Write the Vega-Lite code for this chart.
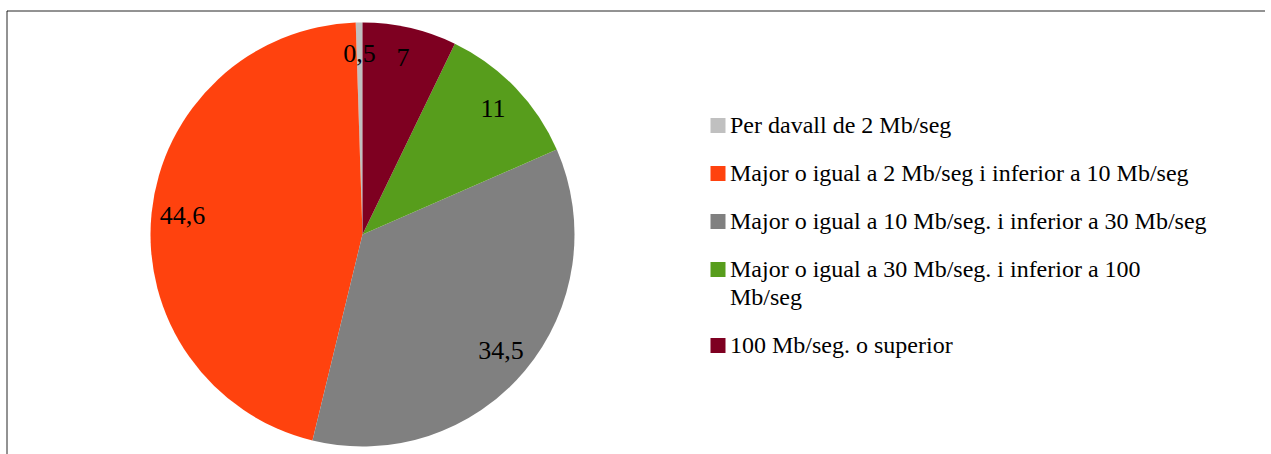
{
  "$schema": "https://vega.github.io/schema/vega-lite/v6.json",
  "width": 1258,
  "height": 443,
  "autosize": {"type": "none"},
  "padding": {"left": 6.5, "top": 10.5, "right": 0, "bottom": 0},
  "background": "white",
  "view": {"stroke": "#262626", "strokeWidth": 1, "fill": "white", "strokeDash": [1258, 1701, 443]},
  "config": {
    "locale": {"number": {"decimal": ",", "thousands": ".", "grouping": [3], "currency": ["", " €"]}}
  },
  "data": {
    "values": [
      {"cat": "Per davall de 2 Mb/seg", "val": 0.5, "k": 1},
      {"cat": "Major o igual a 2 Mb/seg i inferior a 10 Mb/seg", "val": 44.6, "k": 2},
      {"cat": "Major o igual a 10 Mb/seg. i inferior a 30 Mb/seg", "val": 34.5, "k": 3},
      {"cat": "Major o igual a 30 Mb/seg. i inferior a 100 Mb/seg", "val": 11, "k": 4},
      {"cat": "100 Mb/seg. o superior", "val": 7, "k": 5}
    ]
  },
  "encoding": {
    "theta": {"field": "val", "type": "quantitative", "stack": true},
    "order": {"field": "k", "type": "quantitative", "sort": "descending"}
  },
  "layer": [
    {
      "mark": {"type": "arc", "outerRadius": 212, "x": 356, "y": 224},
      "encoding": {
        "color": {
          "field": "cat",
          "type": "nominal",
          "scale": {
            "domain": [
              "Per davall de 2 Mb/seg",
              "Major o igual a 2 Mb/seg i inferior a 10 Mb/seg",
              "Major o igual a 10 Mb/seg. i inferior a 30 Mb/seg",
              "Major o igual a 30 Mb/seg. i inferior a 100 Mb/seg",
              "100 Mb/seg. o superior"
            ],
            "range": ["#c0c0c0", "#ff420e", "#808080", "#579d1c", "#7e0021"]
          },
          "legend": {
            "orient": "none",
            "legendX": 699.5,
            "legendY": 103,
            "title": null,
            "symbolType": "square",
            "symbolSize": 225,
            "symbolStrokeWidth": 0,
            "symbolOpacity": 1,
            "labelFontSize": 24,
            "labelFont": "Liberation Serif",
            "labelColor": "black",
            "labelOffset": 0,
            "labelLimit": 700,
            "rowPadding": 24,
            "labelExpr": "datum.label == 'Major o igual a 30 Mb/seg. i inferior a 100 Mb/seg' ? ['Major o igual a 30 Mb/seg. i inferior a 100', 'Mb/seg'] : datum.label",
            "encode": {"labels": {"update": {"lineHeight": {"value": 28}}}}
          }
        }
      }
    },
    {
      "mark": {"type": "text", "radius": 181, "x": 356, "y": 224, "fontSize": 26, "font": "Liberation Serif", "color": "black"},
      "encoding": {
        "text": {"field": "val", "type": "quantitative", "format": "~g"}
      }
    }
  ]
}
